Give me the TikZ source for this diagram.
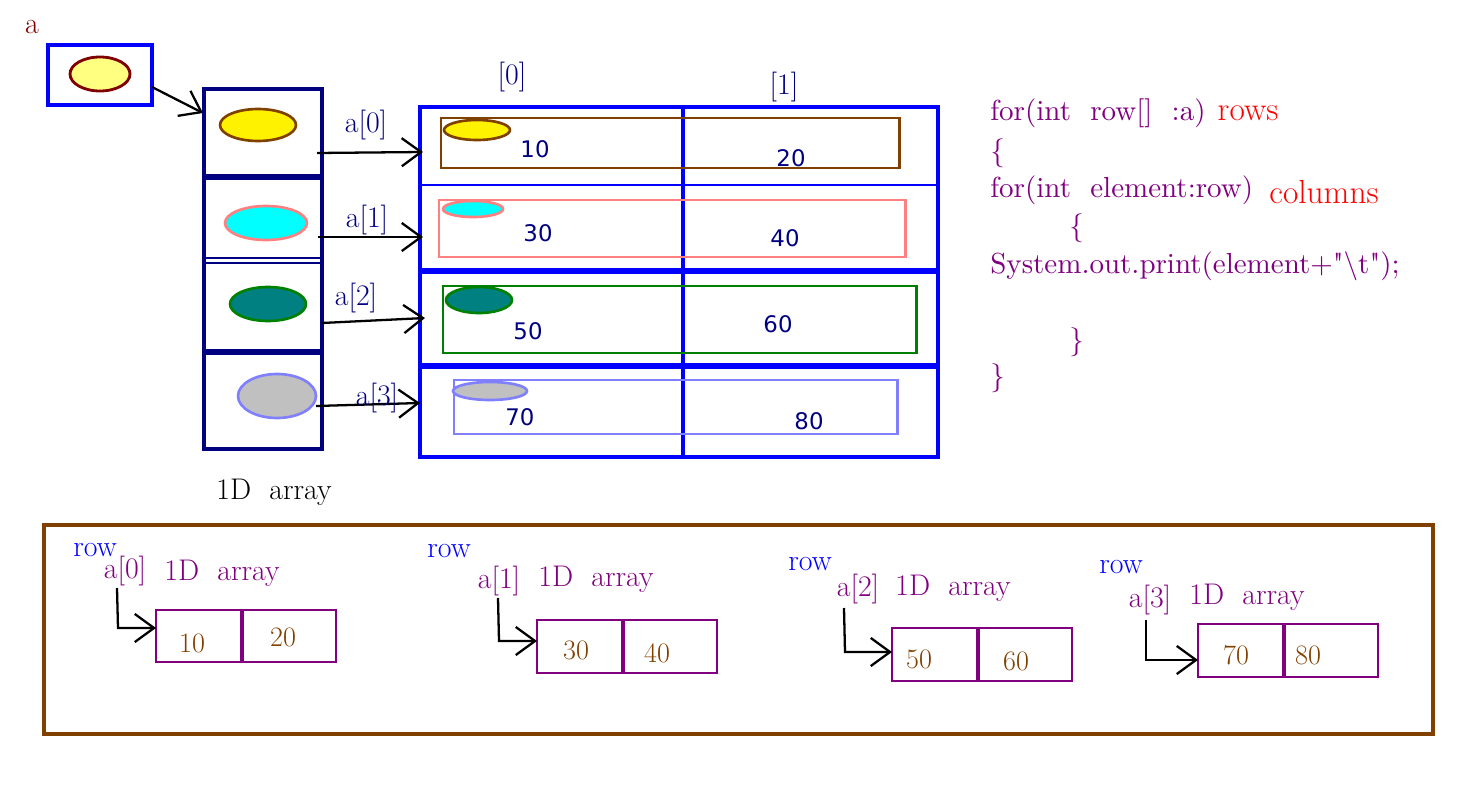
\documentclass[tikz,border=0pt]{standalone}
\usepackage{fontspec}
\usetikzlibrary{arrows.meta,positioning}
\newfontfamily\numfont{DejaVu Sans}
\newfontfamily\codefont{lmroman10-regular}[Extension=.otf, Ligatures=TeXOff]
\definecolor{navyc}{HTML}{000080}
\definecolor{maroonc}{HTML}{800000}
\definecolor{brownc}{HTML}{804000}
\definecolor{salmonc}{HTML}{FF8080}
\definecolor{greenc}{HTML}{008000}
\definecolor{tealc}{HTML}{008080}
\definecolor{cyanc}{HTML}{00FFFF}
\definecolor{lblue}{HTML}{8080FF}
\definecolor{purplec}{HTML}{800080}
\definecolor{lyellow}{HTML}{FFFF80}
\definecolor{silverc}{HTML}{C0C0C0}
\tikzset{
	ptr/.style={draw=black, line width=1.3pt, -{Straight Barb[length=11pt,width=16pt,line width=1.3pt]}},
	lbl/.style={text=navyc, inner sep=0pt, font=\fontsize{17}{19}\selectfont},
	codeline/.style={text=purplec, anchor=west, inner sep=0pt, font=\codefont\fontsize{16.5}{19}\selectfont},
	val/.style={text=navyc, inner sep=0pt, font=\numfont\fontsize{13}{15}\selectfont},
	bval/.style={text=brownc, inner sep=0pt, font=\fontsize{16}{18}\selectfont},
	cell/.style={draw=purplec, line width=1.6pt},
	blk/.style={line width=1.8pt},
}
\begin{document}
\begin{tikzpicture}[x=0.02cm, y=-0.02cm]
	\useasboundingbox (0,0) rectangle (1481,794);
	% reference a
	\node[lbl, text=maroonc] (aname) at (32,27) {a};
	\draw[blue, blk] (48,45) rectangle (152,105);
	\draw[maroonc, line width=1.6pt, fill=lyellow] (100,74) ellipse [x radius=30, y radius=17];
	\coordinate (aout) at (152,87);
	\coordinate (ain) at (203,113);
	\draw[ptr] (aout) -- (ain);
	% 1D array of references
	\draw[navyc, blk] (204,89) rectangle (322,449);
	\draw[navyc, line width=3.2pt] (204,177) -- (322,177);
	\draw[navyc, line width=1pt] (204,258) -- (322,258);
	\draw[navyc, line width=1.6pt] (204,263) -- (322,263);
	\draw[navyc, line width=3pt] (204,352) -- (322,352);
	\draw[brownc, line width=1.5pt, fill=yellow] (258,125) ellipse [x radius=38, y radius=16];
	\draw[salmonc, line width=1.5pt, fill=cyanc] (266,223) ellipse [x radius=41, y radius=17];
	\draw[greenc, line width=1.5pt, fill=tealc] (268,304) ellipse [x radius=38, y radius=17];
	\draw[lblue, line width=1.5pt, fill=silverc] (277,396) ellipse [x radius=39, y radius=22];
	\node[lbl, text=black] (onedim) at (274,492) {1D\ \ array};
	% 2D table
	\draw[blue, blk] (420,107) rectangle (938,457);
	\draw[blue, line width=2.5pt] (683,107) -- (683,455);
	\draw[blue, line width=1.5pt] (420,185) -- (938,185);
	\draw[blue, line width=3.2pt] (420,271) -- (940,271);
	\draw[blue, line width=3.2pt] (420,366) -- (940,366);
	\node[lbl] (col0) at (512,77) {[0]};
	\node[lbl] (col1) at (784,87) {[1]};
	% rows: x1/y1/x2/y2/border/fill/ex/ey/erx/ery
	\foreach \xa/\ya/\xb/\yb/\bc/\fc/\ex/\ey/\rx/\ry in {
		441/118/899/168/brownc/yellow/477/130/33/10,
		439/200/905/257/salmonc/cyanc/473/209/30/8,
		443/286/916/353/greenc/tealc/479/300/33/13,
		454/380/897/434/lblue/silverc/490/391/37/9} {
		\draw[\bc, line width=1.7pt] (\xa,\ya) rectangle (\xb,\yb);
		\draw[\bc, line width=1.5pt, fill=\fc] (\ex,\ey) ellipse [x radius=\rx, y radius=\ry];
	}
	\node[val] (v10) at (535,149) {10};
	\node[val] (v20) at (791,158) {20};
	\node[val] (v30) at (538,233) {30};
	\node[val] (v40) at (785,238) {40};
	\node[val] (v50) at (528,331) {50};
	\node[val] (v60) at (778,324) {60};
	\node[val] (v70) at (520,417) {70};
	\node[val] (v80) at (809,421) {80};
	% row pointers
	\foreach \i/\sx/\sy/\tx/\ty/\lx/\ly in {
		0/317/153/423/152/366/125,
		1/318/237/423/237/367/220,
		2/322/323/425/318/356/298,
		3/316/406/420/403/377/398} {
		\coordinate (src\i) at (\sx,\sy);
		\coordinate (dst\i) at (\tx,\ty);
		\draw[ptr] (src\i) -- (dst\i);
		\node[lbl] (lab\i) at (\lx,\ly) {a[\i]};
	}
	% code
	\node[codeline] (c1) at (990,113) {for(int\ \ row[]\ \ :a)};
	\node[codeline] (c2) at (990,153) {\{};
	\node[codeline] (c3) at (990,190) {for(int\ \ element:row)};
	\node[codeline] (c4) at (1069,228) {\{};
	\node[codeline] (c5) at (990,266) {System.out.print(element\textbf{+}"\textbackslash t");};
	\node[codeline] (c6) at (1069,342) {\}};
	\node[codeline] (c7) at (990,378) {\}};
	\node[lbl, text=red, font=\fontsize{19}{21}\selectfont] (rows) at (1248,113) {rows};
	\node[lbl, text=red, font=\fontsize{19}{21}\selectfont] (cols) at (1324,192) {columns};
	% bottom panel
	\draw[brownc, line width=2pt] (44,525) rectangle (1433,734);
	\foreach \i/\rx/\ry/\ax/\ay/\dx/\dy/\xl/\xm/\xr/\yt/\yb/\nx/\ny/\mx/\my/\px/\py/\qx/\qy/\num/\numb in {
		0/95/550/125/571/222/573/156/242/336/610/662/192/643/283/637/117/588/118/628/10/20,
		1/449/551/499/581/596/579/537/623/717/620/673/576/650/657/653/498/598/499/641/30/40,
		2/810/564/858/589/953/588/892/978/1072/628/681/919/659/1016/661/844/608/845/652/50/60,
		3/1121/567/1150/600/1247/597/1198/1284/1378/624/677/1236/655/1308/655/1146/620/1146/660/70/80} {
		\node[lbl, text=blue] (row\i) at (\rx,\ry) {row};
		\node[lbl, text=purplec] (ref\i) at (\ax,\ay) {a[\i]};
		\node[lbl, text=purplec] (arr\i) at (\dx,\dy) {1D\ \ array};
		\draw[cell] (\xl,\yt) rectangle (\xr,\yb);
		\draw[cell, line width=2.3pt] (\xm,\yt) -- (\xm,\yb);
		\node[bval] (first\i) at (\nx,\ny) {\num};
		\node[bval] (second\i) at (\mx,\my) {\numb};
		\coordinate (top\i) at (\px,\py);
		\coordinate (bend\i) at (\qx,\qy);
		\coordinate (hit\i) at (\xl,\qy);
		\draw[ptr] (top\i) -- (bend\i) -- (hit\i);
	}
\end{tikzpicture}
\end{document}
